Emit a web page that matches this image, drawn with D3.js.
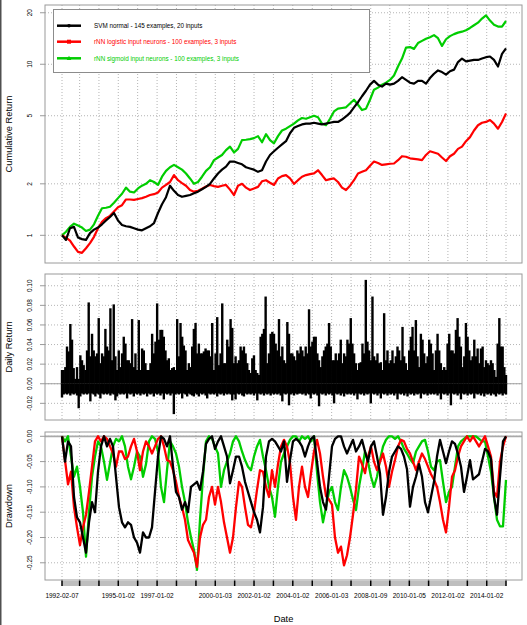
<!DOCTYPE html>
<html>
<head>
<meta charset="utf-8">
<title>Performance summary</title>
<script src="https://cdn.jsdelivr.net/npm/d3@7/dist/d3.min.js"></script>
<style>
  body { margin: 0; background: #fff; }
  svg { display: block; font-family: "Liberation Sans", Arial, Helvetica, sans-serif; }
</style>
</head>
<body>
<div class="svg-container"></div>
<script>
'use strict';

// ---- values ----
var startDate = "1992-02-07";
var endDate = "2014-12-31";

var seriesNames = [
  "SVM normal - 145 examples, 20 inputs",
  "rNN logistic input neurons - 100 examples, 3 inputs",
  "rNN sigmoid input neurons - 100 examples, 3 inputs"
];

// cumulative return (growth of 1), evenly spaced over the period
var cumSVM = [
  1.0,0.94,1.1,1.12,0.97,0.95,0.94,1.03,1.08,1.11,
  1.16,1.22,1.28,1.35,1.22,1.15,1.13,1.12,1.10,1.08,
  1.07,1.10,1.13,1.18,1.35,1.52,1.67,1.95,1.82,1.72,
  1.68,1.70,1.72,1.76,1.80,1.86,1.92,2.0,2.15,2.3,
  2.42,2.52,2.7,2.7,2.65,2.6,2.5,2.46,2.42,2.35,
  2.4,2.7,2.95,3.1,3.25,3.4,3.55,3.95,4.25,4.35,
  4.45,4.5,4.5,4.55,4.5,4.45,4.5,4.55,4.6,4.6,
  4.75,4.95,5.2,5.6,6.0,6.5,7.0,7.6,8.0,7.6,
  7.4,7.7,7.6,7.7,8.0,8.4,8.1,7.8,7.7,8.0,
  8.0,7.7,8.3,8.8,9.2,9.0,8.7,9.1,9.3,10.3,
  10.8,10.4,10.5,10.6,10.6,10.8,11.0,11.1,10.6,9.7,
  11.5,12.4
];
var cumLogistic = [
  1.0,0.97,0.93,0.86,0.8,0.79,0.84,0.9,0.98,1.1,
  1.2,1.26,1.3,1.38,1.46,1.5,1.62,1.62,1.61,1.63,
  1.65,1.68,1.72,1.74,1.78,1.9,1.97,2.05,2.25,2.1,
  2.02,1.95,1.84,1.8,1.82,1.87,1.93,1.97,1.94,1.92,
  1.95,1.97,1.85,1.72,1.95,2.0,1.9,1.84,1.88,1.92,
  2.07,2.1,2.03,1.97,2.15,2.22,2.25,2.15,2.0,2.1,
  2.2,2.25,2.28,2.3,2.4,2.25,2.1,2.13,2.15,2.05,
  1.9,1.84,1.95,2.1,2.3,2.35,2.4,2.55,2.7,2.65,
  2.58,2.6,2.62,2.63,2.75,2.9,2.88,2.82,2.8,2.78,
  2.75,2.95,3.1,3.05,3.0,2.85,2.72,2.9,3.0,3.2,
  3.3,3.55,3.75,4.1,4.4,4.55,4.6,4.72,4.5,4.2,
  4.6,5.15
];
var cumSigmoid = [
  1.0,1.05,1.12,1.17,1.14,1.11,1.06,1.08,1.16,1.3,
  1.44,1.45,1.47,1.55,1.65,1.75,1.9,1.8,1.78,1.88,
  1.95,2.0,2.1,2.05,1.97,2.2,2.38,2.5,2.58,2.5,
  2.42,2.3,2.15,2.0,2.05,2.2,2.38,2.5,2.75,2.85,
  2.95,3.15,3.3,3.05,3.2,3.6,3.62,3.65,3.7,3.8,
  3.5,3.9,3.6,3.45,3.8,4.1,4.2,4.35,4.5,4.7,
  4.85,4.8,4.9,5.0,4.9,4.5,4.4,4.8,5.3,5.5,
  5.55,5.6,5.9,6.2,5.8,5.4,5.5,6.2,7.1,7.3,
  7.6,7.8,8.1,8.6,9.7,10.8,12.5,12.6,12.3,13.3,
  13.7,14.1,14.4,14.8,14.2,12.8,14.0,14.6,15.0,15.3,
  15.5,15.8,16.3,16.9,17.5,18.5,19.3,18.0,17.0,16.6,
  16.6,17.9
];

// daily return of the first series in percent: highest and lowest day in each slot
var dailyHighPct = [
  1.4,1.4,1.7,3.8,3.3,6.1,4.5,1.6,0.5,1.7,
  0.5,2.9,2.4,1.9,1.4,3.4,8.3,2.8,5.1,3.4,
  2.8,3.1,6.7,2.1,3.1,2.8,5.6,3.8,3.4,7.7,
  2.4,8.1,2.8,1.4,3.4,1.7,3.1,4.8,4.1,2.4,
  2.4,2.1,6.6,1.7,3.1,1.4,6.5,1.4,3.6,3.4,
  2.1,1.4,1.4,2.1,5.1,3.1,4.3,8.2,4.5,5.5,
  5.5,4.8,3.4,2.4,2.6,1.4,1.6,1.7,1.4,6.6,
  2.8,6.2,4.8,3.9,3.4,1.4,2.1,1.7,3.8,5.6,
  6.2,3.1,4.1,
  3.1,3.1,3.3,3.6,3.4,3.4,2.8,6.2,1.4,3.1,
  6.8,1.9,3.1,8.2,2.1,2.1,4.5,3.8,6.6,5.7,
  2.1,2.8,2.1,2.4,3.8,3.4,3.8,3.1,2.1,1.4,
  1.1,2.6,2.9,1.4,1.1,0.9,4.8,5.1,5.6,8.9,
  2.1,3.1,5.1,5.3,5.1,4.1,3.4,6.6,2.8,3.8,
  2.4,2.1,6.3,5.1,3.1,3.1,2.8,2.4,3.4,3.1,
  3.8,3.4,2.8,3.8,3.1,7.6,3.8,4.3,4.8,4.8,
  3.1,2.4,1.7,2.8,3.4,3.8,4.1,6.2,3.8,2.4,
  2.4,3.1,2.4,3.1,4.5,2.1,3.1,2.8,4.5,4.1,
  6.7,4.1,3.1,2.1,1.4,2.1,2.2,4.1,3.1,10.6,
  4.3,3.4,2.4,8.9,2.8,2.4,3.1,2.1,2.2,1.4,
  7.2,2.4,3.4,2.1,2.4,3.4,2.1,2.8,3.8,3.4,
  2.4,5.8,2.8,2.1,1.4,3.4,4.8,5.8,3.4,6.5,
  2.8,1.7,5.1,4.5,3.1,2.1,2.8,4.5,4.1,3.1,
  1.4,3.4,5.1,3.4,2.1,1.4,1.7,1.4,4.1,5.1,
  3.4,3.4,3.1,5.5,6.7,4.8,3.8,1.7,2.8,6.2,
  4.8,3.4,2.4,2.8,4.5,2.8,3.6,2.1,3.6,3.8,
  1.7,2.4,2.1,1.9,2.4,2.1,1.4,0.7,4.1,6.7,
  3.8,3.8,1.7,0.9
];
var dailyLowPct = [
  -1.4,-1.1,-1.0,-1.1,-1.0,-1.2,-1.0,-1.1,-1.0,-1.2,
  -2.5,-1.3,-1.0,-1.1,-1.0,-1.1,-1.0,-1.8,-1.0,-1.1,
  -1.3,-1.0,-1.1,-1.5,-1.0,-1.1,-1.0,-1.1,-1.0,-1.2,
  -1.0,-1.1,-1.7,-1.3,-1.0,-1.1,-1.0,-1.1,-1.0,-1.5,
  -1.0,-1.1,-1.0,-1.3,-1.0,-1.1,-1.0,-1.2,-1.0,-1.1,
  -1.0,-1.3,-1.0,-1.1,-1.0,-1.3,-1.0,-1.1,-1.0,-1.2,
  -1.0,-1.6,-1.0,-1.1,-1.0,-1.2,-1.0,-3.1,-1.1,-1.0,
  -1.1,-1.0,-1.5,-1.0,-1.1,-1.3,-1.0,-1.1,-1.2,-1.3,
  -1.0,-1.1,-1.3,
  -1.0,-1.1,-1.0,-1.2,-1.5,-1.0,-1.1,-1.0,-1.1,-1.0,
  -1.3,-1.0,-1.1,-1.0,-1.2,-1.0,-1.1,-1.0,-1.1,-1.7,
  -1.1,-1.6,-1.0,-1.1,-1.0,-1.2,-1.3,-1.0,-1.1,-1.0,
  -1.1,-1.0,-1.2,-1.0,-1.7,-1.0,-1.1,-1.0,-1.2,-1.0,
  -1.1,-1.0,-1.2,-1.0,-1.1,-1.0,-1.1,-1.0,-1.2,-1.8,
  -1.0,-1.1,-1.0,-2.2,-1.1,-1.0,-1.2,-1.0,-1.1,-1.0,
  -1.0,-1.1,-1.0,-1.2,-1.0,-1.1,-1.5,-1.0,-1.1,-1.0,
  -1.2,-2.3,-1.0,-1.1,-1.0,-1.2,-1.0,-1.1,-1.0,-1.2,
  -2.0,-1.0,-1.1,-1.0,-1.2,-1.0,-1.3,-1.0,-1.1,-1.0,
  -1.1,-1.0,-1.2,-1.0,-1.6,-1.0,-1.1,-1.0,-1.2,-1.0,
  -1.1,-1.0,-2.0,-1.0,-1.1,-1.0,-1.2,-1.0,-1.5,-1.0,
  -1.1,-1.0,-1.2,-1.0,-1.1,-1.0,-1.2,-1.0,-1.6,-1.0,
  -1.1,-1.0,-1.2,-1.0,-1.3,-1.0,-1.1,-1.0,-1.2,-1.0,
  -1.1,-1.0,-1.5,-1.0,-1.1,-1.0,-1.2,-1.0,-1.1,-1.0,
  -1.1,-1.0,-1.2,-1.0,-1.6,-1.0,-1.1,-1.0,-1.2,-1.0,
  -2.2,-1.0,-1.1,-1.0,-1.2,-1.0,-1.6,-1.0,-1.1,-1.0,
  -1.2,-1.0,-1.1,-1.0,-1.5,-1.0,-1.1,-1.0,-1.2,-1.0,
  -1.3,-1.0,-1.1,-1.0,-1.2,-1.0,-1.1,-1.3,-1.0,-1.1,
  -1.0,-1.2,-1.0,-1.1
];

// drawdown, evenly spaced over the period
var ddSVM = [
  0,-0.05,-0.01,-0.02,-0.12,-0.16,-0.17,-0.2,-0.23,-0.17,
  -0.13,-0.15,-0.07,-0.02,0,-0.02,-0.005,-0.02,-0.08,-0.14,
  -0.17,-0.18,-0.17,-0.175,-0.2,-0.21,-0.23,-0.19,-0.2,-0.2,
  -0.18,-0.11,-0.04,0,-0.005,-0.02,0,-0.06,-0.11,-0.12,
  -0.145,-0.13,-0.15,-0.1,-0.095,-0.09,-0.106,-0.07,-0.015,-0.005,
  0,-0.025,-0.01,0,-0.02,-0.04,-0.093,-0.067,-0.04,-0.04,
  -0.06,-0.09,-0.11,-0.13,-0.15,-0.165,-0.19,-0.14,-0.04,-0.01,
  -0.005,-0.01,-0.02,-0.03,-0.01,-0.09,-0.047,-0.01,-0.005,-0.01,
  -0.02,-0.04,-0.02,-0.005,0,-0.05,-0.1,-0.13,-0.145,-0.08,
  -0.02,-0.005,0,0,-0.02,-0.034,-0.02,-0.007,-0.03,-0.02,
  -0.007,-0.03,-0.05,-0.02,-0.01,-0.04,-0.073,-0.155,-0.12,-0.07,
  -0.04,-0.03,-0.02,-0.025,-0.04,-0.065,-0.139,-0.1,-0.08,-0.055,
  -0.08,-0.13,-0.15,-0.12,-0.09,-0.04,-0.007,-0.03,-0.053,-0.03,
  -0.01,-0.015,-0.035,-0.06,-0.11,-0.08,-0.047,-0.085,-0.08,-0.075,
  -0.05,-0.025,-0.03,-0.045,-0.12,-0.155,-0.08,-0.01,0
];
var ddLogistic = [
  0,-0.047,-0.095,-0.07,-0.14,-0.18,-0.215,-0.18,-0.155,-0.11,
  -0.06,-0.01,0,-0.01,0,-0.005,-0.02,-0.034,-0.06,-0.03,
  -0.03,-0.045,-0.04,-0.02,-0.005,-0.03,-0.067,-0.03,-0.01,-0.02,
  -0.034,-0.02,-0.005,0,-0.02,-0.047,-0.05,-0.067,-0.09,-0.12,
  -0.14,-0.165,-0.205,-0.218,-0.23,-0.258,-0.2,-0.175,-0.165,-0.12,
  -0.1,-0.135,-0.1,-0.13,-0.17,-0.2,-0.23,-0.2,-0.14,-0.09,
  -0.1,-0.14,-0.175,-0.18,-0.15,-0.106,-0.067,-0.07,-0.1,-0.12,
  -0.067,-0.1,-0.055,-0.02,-0.007,-0.02,-0.053,-0.12,-0.165,-0.1,
  -0.06,-0.1,-0.12,-0.073,-0.03,-0.007,-0.034,-0.08,-0.118,-0.125,
  -0.135,-0.2,-0.23,-0.218,-0.255,-0.235,-0.2,-0.155,-0.105,-0.04,
  -0.055,-0.073,-0.04,-0.02,-0.05,-0.067,-0.05,-0.034,-0.06,-0.1,
  -0.07,-0.047,-0.02,-0.007,-0.01,-0.025,-0.034,-0.05,-0.067,-0.05,
  -0.034,-0.045,-0.06,-0.075,-0.086,-0.1,-0.13,-0.165,-0.19,-0.14,
  -0.08,-0.067,-0.04,-0.02,-0.01,0,-0.01,0,-0.01,-0.02,
  -0.01,0,-0.02,-0.04,-0.11,-0.12,-0.05,-0.02,0
];
var ddSigmoid = [
  0,-0.01,0,-0.04,-0.08,-0.06,-0.1,-0.15,-0.238,-0.15,
  -0.08,-0.04,-0.01,-0.02,-0.05,-0.086,-0.053,-0.02,-0.005,-0.01,
  0,-0.02,-0.06,-0.085,-0.06,-0.03,-0.04,-0.08,-0.055,-0.01,
  0,-0.005,-0.03,-0.1,-0.13,-0.067,-0.01,-0.02,-0.034,-0.06,
  -0.1,-0.13,-0.17,-0.2,-0.225,-0.264,-0.165,-0.08,-0.01,0,
  -0.005,-0.02,-0.034,-0.1,-0.067,-0.05,-0.034,-0.01,0,-0.01,
  -0.03,-0.047,-0.06,-0.067,-0.04,-0.02,-0.007,-0.04,-0.067,-0.1,
  -0.12,-0.159,-0.1,-0.05,-0.034,-0.02,-0.007,0,0,-0.01,
  0,-0.005,0,-0.01,0,-0.07,-0.13,-0.17,-0.14,-0.11,
  -0.1,-0.13,-0.146,-0.1,-0.067,-0.08,-0.1,-0.125,-0.146,-0.1,
  -0.067,-0.03,-0.05,-0.08,-0.1,-0.08,-0.047,-0.02,-0.007,0,
  0,-0.005,0,-0.01,-0.025,-0.034,-0.045,-0.053,-0.03,-0.02,
  -0.01,-0.007,-0.03,-0.06,-0.067,-0.05,-0.047,-0.09,-0.13,-0.11,
  -0.1,-0.06,-0.02,-0.01,-0.005,0,0,0,0,-0.005,
  -0.01,-0.01,-0.04,-0.07,-0.12,-0.165,-0.178,-0.178,-0.086
];

var tickDates = [
  "1992-02-07","1993-01-04","1994-01-03","1995-01-02","1996-01-02","1997-01-02",
  "1998-01-02","1999-01-04","2000-01-03","2001-01-02","2002-01-02","2003-01-02",
  "2004-01-02","2005-01-03","2006-01-03","2007-01-03","2008-01-09","2009-01-02",
  "2010-01-05","2011-01-03","2012-01-02","2013-01-02","2014-01-02","2014-12-31"
];
var tickLabels = [
  "1992-02-07","1995-01-02","1997-01-02","2000-01-03","2002-01-02","2004-01-02",
  "2006-01-03","2008-01-09","2010-01-05","2012-01-02","2014-01-02"
];
var cumTicks = [1, 2, 5, 10, 20];
var retTicks = [-0.02, 0, 0.02, 0.04, 0.06, 0.08, 0.10];
var ddTicks = [0, -0.05, -0.10, -0.15, -0.20, -0.25];

// ---- drawing ----
var W = 527, H = 625;
var boxL = 45, boxR = 522;
var colors = ["#000000", "#ff0000", "#00cd00"];
var gridCol = "#b4b4b4", boxCol = "#9a9a9a";

var parseDate = d3.timeParse("%Y-%m-%d");
var t0 = parseDate(startDate), t1 = parseDate(endDate);

function spread(n) {
  return d3.range(n).map(function(i) {
    return new Date(+t0 + i * (t1 - t0) / (n - 1));
  });
}

var x = d3.scaleTime().domain([t0, t1]).range([62, 506]);
var yCum = d3.scaleLog().domain([0.689, 22.2]).range([263, 5]);
var yRet = d3.scaleLinear().domain([-0.037, 0.112]).range([420, 274]);
var yDD = d3.scaleLinear().domain([-0.284, 0.0085]).range([580, 432]);

var svg = d3.select(".svg-container").append("svg")
  .attr("width", W)
  .attr("height", H);

svg.append("rect").attr("width", W).attr("height", H).attr("fill", "#fff");
svg.append("rect").attr("x", 0).attr("y", 0).attr("width", 1.5).attr("height", H).attr("fill", "#505050");

var tickDateObjs = tickDates.map(parseDate);

function makePanel(y, ticks, fmt, title) {
  var top = y.range()[1], bottom = y.range()[0];
  var g = svg.append("g");

  g.append("g").selectAll("line").data(ticks).enter().append("line")
    .attr("x1", boxL).attr("x2", boxR)
    .attr("y1", function(d) { return y(d); })
    .attr("y2", function(d) { return y(d); })
    .attr("stroke", gridCol)
    .attr("stroke-dasharray", "1,2");

  g.append("g").selectAll("line").data(tickDateObjs).enter().append("line")
    .attr("x1", function(d) { return x(d); })
    .attr("x2", function(d) { return x(d); })
    .attr("y1", top).attr("y2", bottom)
    .attr("stroke", gridCol)
    .attr("stroke-dasharray", "1,2");

  // y axis ticks and labels
  g.append("g").selectAll("line").data(ticks).enter().append("line")
    .attr("x1", boxL - 5).attr("x2", boxL)
    .attr("y1", function(d) { return y(d); })
    .attr("y2", function(d) { return y(d); })
    .attr("stroke", boxCol);

  g.append("g").selectAll("text").data(ticks).enter().append("text")
    .attr("transform", function(d) { return "translate(32," + y(d) + ") rotate(-90)"; })
    .attr("text-anchor", "middle")
    .attr("font-size", "6.5px")
    .text(fmt);

  svg.append("text")
    .attr("transform", "translate(11.5," + ((top + bottom) / 2) + ") rotate(-90)")
    .attr("text-anchor", "middle")
    .attr("font-size", "9.3px")
    .text(title);

  return g;
}

function drawBox(y) {
  var top = y.range()[1], bottom = y.range()[0];
  svg.append("rect")
    .attr("x", boxL).attr("y", top)
    .attr("width", boxR - boxL).attr("height", bottom - top)
    .attr("fill", "none")
    .attr("stroke", boxCol);
}

var fmtNum = function(d) { return d.toFixed(2); };

// ---- panel 1: cumulative return ----
var gCum = makePanel(yCum, cumTicks, function(d) { return String(d); }, "Cumulative Return");
var cumSeries = [cumSVM, cumLogistic, cumSigmoid];
var cumDates = spread(cumSVM.length);
var cumLine = d3.line()
  .x(function(d, i) { return x(cumDates[i]); })
  .y(function(d) { return yCum(d); });

// first series ends up on top
for (var c = cumSeries.length - 1; c >= 0; c--) {
  gCum.append("path")
    .datum(cumSeries[c])
    .attr("d", cumLine)
    .attr("fill", "none")
    .attr("stroke", colors[c])
    .attr("stroke-width", 2.2)
    .attr("stroke-linejoin", "round");
}
drawBox(yCum);

// legend
var legend = svg.append("g");
legend.append("rect")
  .attr("x", 53.5).attr("y", 9.5)
  .attr("width", 316).attr("height", 63)
  .attr("fill", "#fff")
  .attr("stroke", "#8c8c8c");
var legendY = [25.7, 41.7, 58.3];
seriesNames.forEach(function(name, i) {
  legend.append("line")
    .attr("x1", 57).attr("x2", 81)
    .attr("y1", legendY[i]).attr("y2", legendY[i])
    .attr("stroke", colors[i])
    .attr("stroke-width", 2.5);
  if (i === 0) {
    legend.append("circle").attr("cx", 69).attr("cy", legendY[i]).attr("r", 1.8).attr("fill", colors[i]);
  } else if (i === 1) {
    legend.append("rect").attr("x", 67).attr("y", legendY[i] - 2).attr("width", 4).attr("height", 4).attr("fill", colors[i]);
  } else {
    legend.append("path")
      .attr("d", "M69," + (legendY[i] - 2.6) + "L71.3," + (legendY[i] + 1.6) + "L66.7," + (legendY[i] + 1.6) + "Z")
      .attr("fill", colors[i]);
  }
  legend.append("text")
    .attr("x", 94).attr("y", legendY[i])
    .attr("dy", "0.35em")
    .attr("font-size", "6.3px")
    .attr("fill", colors[i])
    .text(name);
});

// ---- panel 2: daily return ----
var gRet = makePanel(yRet, retTicks, fmtNum, "Daily Return");
gRet.append("line")
  .attr("x1", boxL).attr("x2", boxR)
  .attr("y1", yRet(0)).attr("y2", yRet(0))
  .attr("stroke", "#a0a0a0");

var dailyDates = spread(dailyHighPct.length);
gRet.append("g").selectAll("line").data(dailyHighPct).enter().append("line")
  .attr("x1", function(d, i) { return x(dailyDates[i]); })
  .attr("x2", function(d, i) { return x(dailyDates[i]); })
  .attr("y1", yRet(0))
  .attr("y2", function(d) { return yRet(d / 100); })
  .attr("stroke", "#000")
  .attr("stroke-width", 2.4);
gRet.append("g").selectAll("line").data(dailyLowPct).enter().append("line")
  .attr("x1", function(d, i) { return x(dailyDates[i]); })
  .attr("x2", function(d, i) { return x(dailyDates[i]); })
  .attr("y1", yRet(0))
  .attr("y2", function(d) { return yRet(d / 100); })
  .attr("stroke", "#000")
  .attr("stroke-width", 2.4);
drawBox(yRet);

// ---- panel 3: drawdown ----
var gDD = makePanel(yDD, ddTicks, fmtNum, "Drawdown");
gDD.append("line")
  .attr("x1", boxL).attr("x2", boxR)
  .attr("y1", yDD(0)).attr("y2", yDD(0))
  .attr("stroke", "#a9a9a9")
  .attr("stroke-width", 1.8);

var ddSeries = [ddSVM, ddLogistic, ddSigmoid];
var ddDates = spread(ddSVM.length);
var ddLine = d3.line()
  .x(function(d, i) { return x(ddDates[i]); })
  .y(function(d) { return yDD(d); });
for (var k = ddSeries.length - 1; k >= 0; k--) {
  gDD.append("path")
    .datum(ddSeries[k])
    .attr("d", ddLine)
    .attr("fill", "none")
    .attr("stroke", colors[k])
    .attr("stroke-width", 2.3)
    .attr("stroke-linejoin", "round");
}
drawBox(yDD);

// ---- x axis: grey band, ticks, date labels ----
var xAxis = svg.append("g");
xAxis.append("rect")
  .attr("x", x(t0)).attr("y", 581)
  .attr("width", x(t1) - x(t0)).attr("height", 5)
  .attr("fill", "#bebebe");
xAxis.selectAll("line").data(tickDateObjs).enter().append("line")
  .attr("x1", function(d) { return x(d); })
  .attr("x2", function(d) { return x(d); })
  .attr("y1", 580.5).attr("y2", 586)
  .attr("stroke", "#000")
  .attr("stroke-width", 1.5);
xAxis.selectAll("text").data(tickLabels).enter().append("text")
  .attr("x", function(d) { return x(parseDate(d)); })
  .attr("y", 597.5)
  .attr("text-anchor", "middle")
  .attr("font-size", "6.5px")
  .text(function(d) { return d; });

svg.append("text")
  .attr("x", (boxL + boxR) / 2)
  .attr("y", 622)
  .attr("text-anchor", "middle")
  .attr("font-size", "9.3px")
  .text("Date");
</script>
</body>
</html>
